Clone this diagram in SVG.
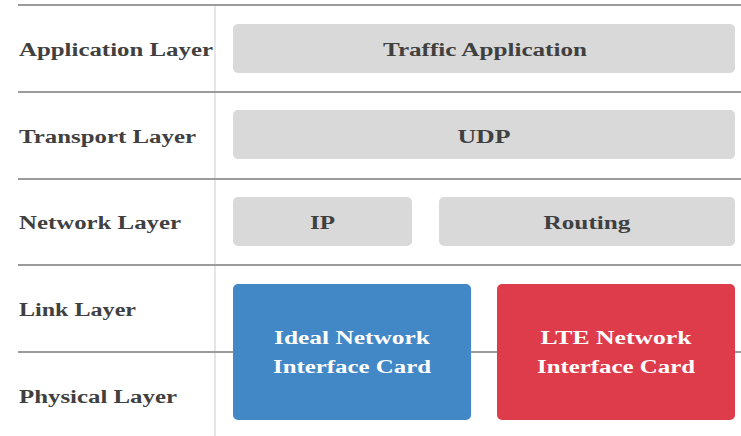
<svg xmlns="http://www.w3.org/2000/svg" width="741" height="436" viewBox="0 0 741 436">
<style>
.hl{stroke:#9b9b9b;stroke-width:2}
.vl{stroke:#e6e6e6;stroke-width:2}
.lbl{font-family:"Liberation Serif","DejaVu Serif",serif;font-weight:bold;font-size:18px;fill:#404040}
.gbox{fill:#d9d9d9}
.gt{font-family:"Liberation Serif","DejaVu Serif",serif;font-weight:bold;font-size:18px;fill:#404040;text-anchor:middle}
.wt{font-family:"Liberation Serif","DejaVu Serif",serif;font-weight:bold;font-size:18px;fill:#ffffff;text-anchor:middle}
</style>
<rect width="741" height="436" fill="#ffffff"/>
<g id="grid">
<line class="vl" x1="215" y1="5" x2="215" y2="436"/>
<line class="hl" x1="18" y1="5" x2="741" y2="5"/>
<line class="hl" x1="18" y1="92" x2="741" y2="92"/>
<line class="hl" x1="18" y1="179" x2="741" y2="179"/>
<line class="hl" x1="18" y1="265" x2="741" y2="265"/>
<line class="hl" x1="18" y1="352" x2="741" y2="352"/>
</g>
<g id="labels">
<text class="lbl" x="19" y="56" textLength="194" lengthAdjust="spacingAndGlyphs">Application Layer</text>
<text class="lbl" x="19" y="143" textLength="177" lengthAdjust="spacingAndGlyphs">Transport Layer</text>
<text class="lbl" x="19" y="229" textLength="162" lengthAdjust="spacingAndGlyphs">Network Layer</text>
<text class="lbl" x="19" y="316" textLength="117" lengthAdjust="spacingAndGlyphs">Link Layer</text>
<text class="lbl" x="19" y="403" textLength="158" lengthAdjust="spacingAndGlyphs">Physical Layer</text>
</g>
<g id="traffic-app">
<rect class="gbox" x="233" y="24" width="502" height="49" rx="5"/>
<text class="gt" x="485" y="56" textLength="204" lengthAdjust="spacingAndGlyphs">Traffic Application</text>
</g>
<g id="udp">
<rect class="gbox" x="233" y="110" width="502" height="49" rx="5"/>
<text class="gt" x="484" y="143" textLength="53" lengthAdjust="spacingAndGlyphs">UDP</text>
</g>
<g id="ip">
<rect class="gbox" x="233" y="197" width="179" height="49" rx="5"/>
<text class="gt" x="322.5" y="229" textLength="25" lengthAdjust="spacingAndGlyphs">IP</text>
</g>
<g id="routing">
<rect class="gbox" x="439" y="197" width="296" height="49" rx="5"/>
<text class="gt" x="587" y="229" textLength="87" lengthAdjust="spacingAndGlyphs">Routing</text>
</g>
<g id="ideal-nic">
<rect x="233" y="284" width="238" height="136" rx="5" fill="#4287c6"/>
<text class="wt" x="352" y="344" textLength="156" lengthAdjust="spacingAndGlyphs">Ideal Network</text>
<text class="wt" x="352" y="373" textLength="158" lengthAdjust="spacingAndGlyphs">Interface Card</text>
</g>
<g id="lte-nic">
<rect x="497" y="284" width="238" height="136" rx="5" fill="#de3c4b"/>
<text class="wt" x="616" y="344" textLength="151" lengthAdjust="spacingAndGlyphs">LTE Network</text>
<text class="wt" x="616" y="373" textLength="158" lengthAdjust="spacingAndGlyphs">Interface Card</text>
</g>
</svg>
